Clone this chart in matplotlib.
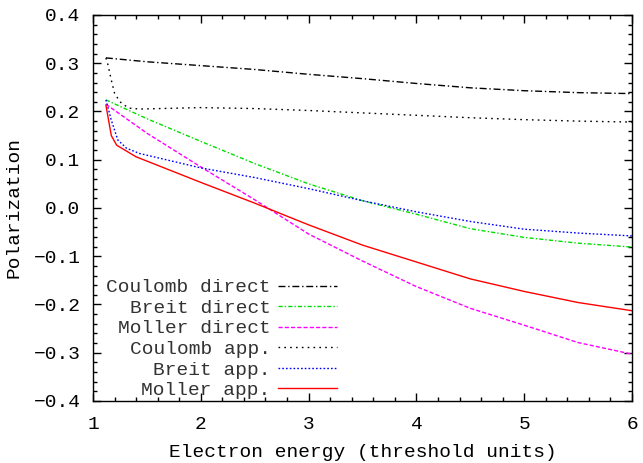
import numpy as np
import matplotlib
matplotlib.use("Agg")
import matplotlib.pyplot as plt
from matplotlib.ticker import MultipleLocator, FuncFormatter

plt.rcParams['font.family'] = ['Liberation Mono', 'DejaVu Sans Mono']
plt.rcParams['font.size'] = 14
plt.rcParams['text.color'] = '#333333'

# polarization vs electron energy (threshold units)
coul_dir_x = [1.12, 1.5, 2, 2.5, 3, 3.5, 4, 4.5, 5, 5.5, 6]
coul_dir_y = [0.311, 0.303, 0.295, 0.287, 0.277, 0.268, 0.258, 0.249, 0.243, 0.239, 0.237]

breit_dir_x = [1.12, 1.5, 2, 2.5, 3, 3.5, 4, 4.5, 5, 5.5, 6]
breit_dir_y = [0.224, 0.185, 0.138, 0.092, 0.050, 0.015, -0.013, -0.043, -0.061, -0.073, -0.081]

moll_dir_x = [1.12, 1.5, 2, 2.5, 3, 3.5, 4, 4.5, 5, 5.5, 6]
moll_dir_y = [0.215, 0.155, 0.085, 0.017, -0.054, -0.110, -0.163, -0.208, -0.243, -0.279, -0.303]

coul_app_x = [1.12, 1.14, 1.17, 1.2, 1.25, 1.33, 1.43, 2, 2.5, 3, 3.5, 4, 4.5, 5, 5.5, 6]
coul_app_y = [0.311, 0.296, 0.265, 0.238, 0.220, 0.207, 0.205, 0.208, 0.206, 0.202, 0.197,
              0.192, 0.187, 0.183, 0.180, 0.178]

breit_app_x = [1.12, 1.17, 1.23, 1.31, 1.43, 2, 2.5, 3, 3.5, 4, 4.5, 5, 5.5, 6]
breit_app_y = [0.224, 0.182, 0.141, 0.124, 0.113, 0.083, 0.063, 0.040, 0.015, -0.008,
               -0.028, -0.044, -0.052, -0.058]

moll_app_x = [1.12, 1.17, 1.22, 1.4, 2, 2.5, 3, 3.5, 4, 4.5, 5, 5.5, 6]
moll_app_y = [0.213, 0.150, 0.130, 0.106, 0.053, 0.010, -0.035, -0.077, -0.112, -0.147,
              -0.173, -0.196, -0.213]

fig = plt.figure(figsize=(6.43, 4.63), dpi=100)
ax = fig.add_axes([0.1446, 0.134, 0.8383, 0.8337])

lw = 1.0
ax.plot(coul_dir_x, coul_dir_y, color='black', lw=lw, dashes=(5, 2, 1, 2), label='Coulomb direct')
ax.plot(breit_dir_x, breit_dir_y, color='#00e000', lw=lw, dashes=(3, 1.5, 1, 1.5), label='Breit direct')
ax.plot(moll_dir_x, moll_dir_y, color='#ff00ff', lw=lw, dashes=(3, 1.5), label='Moller direct')
ax.plot(coul_app_x, coul_app_y, color='black', lw=lw, dashes=(1.2, 3), label='Coulomb app.')
ax.plot(breit_app_x, breit_app_y, color='#0000ff', lw=lw, dashes=(1.2, 1.5), label='Breit app.')
ax.plot(moll_app_x, moll_app_y, color='#ff0000', lw=lw, label='Moller app.')

ax.set_xlim(1, 6)
ax.set_ylim(-0.4, 0.4)
ax.xaxis.set_major_locator(MultipleLocator(1))
ax.xaxis.set_minor_locator(MultipleLocator(0.2))
ax.yaxis.set_major_locator(MultipleLocator(0.1))
ax.yaxis.set_minor_locator(MultipleLocator(0.02))
ax.yaxis.set_major_formatter(FuncFormatter(lambda v, p: ('%.1f' % v).replace('-', '\u2212')))

ax.tick_params(which='both', direction='in', top=True, right=True, width=1.0)
ax.tick_params(which='major', length=5.5)
ax.tick_params(axis='x', which='major', pad=11)
ax.tick_params(axis='y', which='major', pad=9)
ax.tick_params(which='minor', length=2.8)
for s in ax.spines.values():
    s.set_linewidth(1.0)

ax.set_xlabel('Electron energy (threshold units)', labelpad=8)
ax.set_ylabel('Polarization', labelpad=8)

ax.legend(loc='lower right', bbox_to_anchor=(0.452, 0.005), frameon=False,
          markerfirst=False, borderpad=0, borderaxespad=0,
          handlelength=3.0, handletextpad=0.4, labelspacing=0.15)

fig.savefig('out.png', dpi=100)
